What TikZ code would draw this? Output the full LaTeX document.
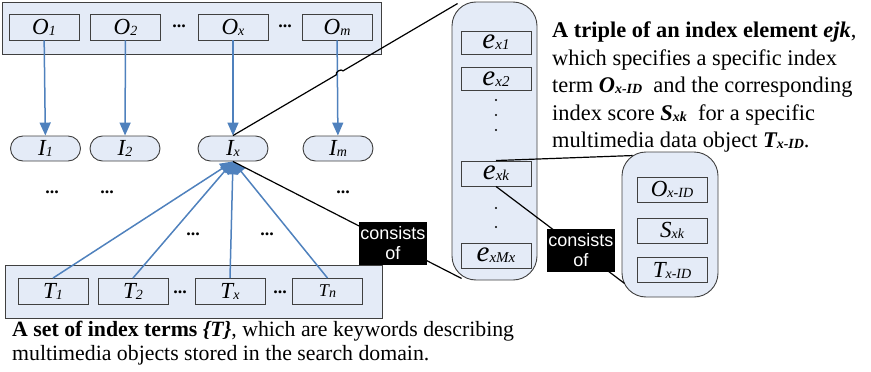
\documentclass[tikz,border=0pt]{standalone}
\usepackage{fontspec}
\setmainfont{Liberation Serif}
\setsansfont{Liberation Sans}
\usetikzlibrary{arrows.meta,calc}
\definecolor{paleblue}{RGB}{228,235,247}
\definecolor{framegray}{RGB}{64,64,64}
\definecolor{flowblue}{RGB}{79,129,189}
\newcommand{\lowsub}[1]{\raisebox{-1pt}{\fontsize{14}{14}\selectfont #1}}
\newcommand{\esub}[1]{\raisebox{-1pt}{\fontsize{15}{15}\selectfont #1}}

\begin{document}
\begin{tikzpicture}[x=1pt, y=-1pt,
	panel/.style={draw=framegray, fill=paleblue, line width=0.9pt},
	item/.style={panel, minimum width=70pt, minimum height=26pt, inner sep=0pt, font=\fontsize{23}{23}\selectfont\itshape},
	pill/.style={item, rounded corners=12.5pt, minimum height=25pt},
	elem/.style={item, minimum height=23pt, font=\fontsize{29}{29}\selectfont\itshape},
	holder/.style={panel, rounded corners=24pt, inner sep=0pt},
	consist/.style={fill=black, text=white, font=\sffamily\fontsize{18}{20}\selectfont, align=center, minimum width=68pt, minimum height=43pt, inner sep=0pt},
	gap/.style={font=\bfseries\fontsize{18}{18}\selectfont},
	link/.style={draw=black, line width=1.2pt},
	feed/.style={color=flowblue, line width=1.5pt, -{Triangle[length=13pt,width=11pt]}}]

	\useasboundingbox (0,0) rectangle (871,372);

	% objects
	\node[panel, minimum width=379pt, minimum height=52pt] (Oset) at (191.5,28) {};
	\node[item] (O1) at (44,27) {O\lowsub{1}};
	\node[item] (O2) at (125.5,27) {O\lowsub{2}};
	\node[item] (Ox) at (233,27) {O\lowsub{x}};
	\node[item] (Om) at (337,27) {O\lowsub{m}};
	\node[gap] (og1) at (179,26) {...};
	\node[gap] (og2) at (285,26) {...};

	% index lists
	\node[pill] (I1) at (45.5,148.5) {I\lowsub{1}};
	\node[pill] (I2) at (125,148.5) {I\lowsub{2}};
	\node[pill] (Ix) at (233,148.5) {I\lowsub{x}};
	\node[pill] (Im) at (338,148.5) {I\lowsub{m}};
	\node[gap] (ig1) at (52,192) {...};
	\node[gap] (ig2) at (107,192) {...};
	\node[gap] (ig3) at (343,192) {...};
	\node[gap] (ig4) at (193,234) {...};
	\node[gap] (ig5) at (267,234) {...};

	% index terms
	\node[panel, minimum width=377pt, minimum height=53pt] (Tset) at (193.5,291.5) {};
	\node[item] (T1) at (53,291.5) {T\lowsub{1}};
	\node[item] (T2) at (133,291.5) {T\lowsub{2}};
	\node[item] (Tx) at (230,291.5) {T\lowsub{x}};
	\node[item, font=\fontsize{18}{18}\selectfont\itshape] (Tn) at (327.5,291.5) {T\lowsub{n}};
	\node[gap] (tg1) at (180,292) {...};
	\node[gap] (tg2) at (280,292) {...};

	% index elements
	\node[holder, minimum width=85pt, minimum height=278pt] (elist) at (494.5,141) {};
	\node[elem] (ex1) at (496,42.5) {e\esub{x1}};
	\node[elem] (ex2) at (496,79) {e\esub{x2}};
	\node[elem, minimum height=25pt] (exk) at (496,173.5) {e\esub{xk}};
	\node[elem, minimum height=25pt] (exM) at (496,255.5) {e\esub{xMx}};
	\foreach \y in {100,115,130,208,227}
		\fill[black] (496,\y) circle (1.1pt);

	% triple
	\node[holder, minimum width=96pt, minimum height=145pt] (triple) at (670,224.5) {};
	\node[item, minimum height=25pt] (oid) at (672,189.5) {O\lowsub{x-ID}};
	\node[item, minimum height=25pt] (sxk) at (672,230.5) {S\lowsub{xk}};
	\node[item, minimum height=25pt] (tid) at (672,270) {T\lowsub{x-ID}};

	\path[feed]
	(O1) edge (I1)
	(O2) edge (I2)
	(Ox) edge (Ix)
	(Om) edge (Im)
	(T1.north) edge (Ix.south)
	(T2.north) edge (Ix.south)
	(Tx.north) edge (Ix.south)
	(Tn.north) edge (Ix.south);

	\coordinate (eTop) at ($(elist.north west)+(6,2)$);
	\coordinate (eBot) at ($(elist.south west)+(10,-2)$);
	\coordinate (tTop) at ($(triple.north west)+(11,4)$);
	\coordinate (tBot) at ($(triple.south west)+(3,-14)$);

	\draw[link] (Ix.north) -- ($(Ix.north)!0.46!(eTop)$)
		to[bend left=90] ($(Ix.north)!0.49!(eTop)$) -- (eTop);
	\draw[link] (Ix.south) -- node[consist, pos=0.7] (cons1) {consists\\of} (eBot);
	\draw[link] (exk.north) -- (tTop);
	\draw[link] (exk.south) -- node[consist, pos=0.66] (cons2) {consists\\of} (tBot);

	\node[anchor=north west, align=left, inner sep=0pt, font=\fontsize{22.4}{27.5}\selectfont] (tripletext) at (552,22)
		{\textbf{A triple of an index element \textit{ejk}},\\
		which specifies a specific index\\
		term \textbf{\textit{O\lowsub{x-ID}}}\ \ and the corresponding\\
		index score \textbf{\textit{S\lowsub{xk}}}\ \ for a specific\\
		multimedia data object \textbf{\textit{T\lowsub{x-ID}}}.};
	\node[anchor=north west, align=left, inner sep=0pt, font=\fontsize{21.8}{24}\selectfont] (termtext) at (12,321)
		{\textbf{A set of index terms \textit{\{T\}}}, which are keywords describing\\
		multimedia objects stored in the search domain.};
\end{tikzpicture}
\end{document}
